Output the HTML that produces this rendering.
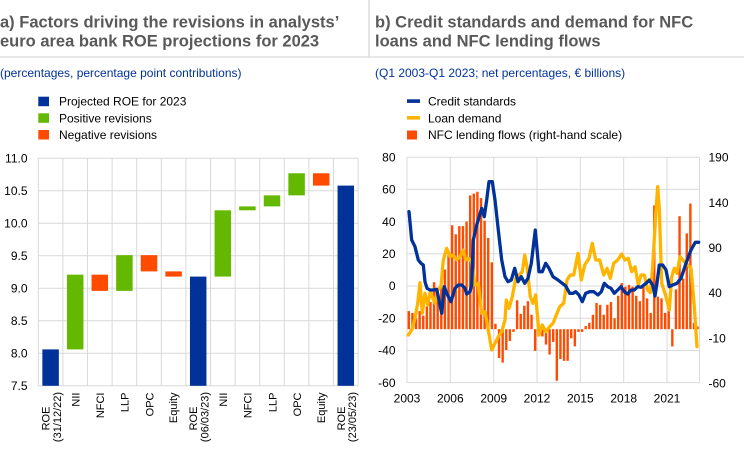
<!DOCTYPE html>
<html>
<head>
<meta charset="utf-8">
<style>
html,body{margin:0;padding:0;background:#fff;}
svg{display:block;}
text{font-family:"Liberation Sans",Arial,sans-serif;}
.t{font-size:16.5px;font-weight:bold;fill:#595959;}
.s{font-size:12px;fill:#003299;}
.l{font-size:12px;fill:#000;}
.k{font-size:12px;fill:#000;}
.r{font-size:11px;fill:#000;}
</style>
</head>
<body>
<svg width="744" height="464" viewBox="0 0 744 464" xmlns="http://www.w3.org/2000/svg">
<rect width="744" height="464" fill="#fff"/>
<line x1="0" y1="57" x2="744" y2="57" stroke="#d9d9d9" stroke-width="1.3"/>
<line x1="369" y1="0" x2="369" y2="57" stroke="#d9d9d9" stroke-width="1.3"/>

<text class="t" x="0" y="27.5">a) Factors driving the revisions in analysts’</text>
<text class="t" x="0" y="46.5">euro area bank ROE projections for 2023</text>
<text class="s" x="0" y="77">(percentages, percentage point contributions)</text>

<text class="t" x="375" y="27.5">b) Credit standards and demand for NFC</text>
<text class="t" x="375" y="46.5">loans and NFC lending flows</text>
<text class="s" x="375" y="77">(Q1 2003-Q1 2023; net percentages, € billions)</text>

<rect x="38.3" y="96.7" width="10.7" height="9.5" fill="#003299"/>
<text class="l" x="59" y="105.5">Projected ROE for 2023</text>
<rect x="38.3" y="113.3" width="10.7" height="9.5" fill="#65b800"/>
<text class="l" x="59" y="122.3">Positive revisions</text>
<rect x="38.3" y="130" width="10.7" height="9.5" fill="#ff4b00"/>
<text class="l" x="59" y="139">Negative revisions</text>

<rect x="407" y="99.3" width="13" height="3.6" fill="#003299"/>
<text class="l" x="428" y="105.5">Credit standards</text>
<rect x="407" y="116" width="13" height="3.6" fill="#ffb400"/>
<text class="l" x="428" y="122.3">Loan demand</text>
<rect x="407" y="130.5" width="10" height="9" fill="#ff4b00"/>
<text class="l" x="428" y="139">NFC lending flows (right-hand scale)</text>

<g stroke="#d9d9d9" stroke-width="1">
<line x1="38.3" y1="158.3" x2="358.1" y2="158.3"/>
<line x1="38.3" y1="190.8" x2="358.1" y2="190.8"/>
<line x1="38.3" y1="223.3" x2="358.1" y2="223.3"/>
<line x1="38.3" y1="255.8" x2="358.1" y2="255.8"/>
<line x1="38.3" y1="288.3" x2="358.1" y2="288.3"/>
<line x1="38.3" y1="320.8" x2="358.1" y2="320.8"/>
<line x1="38.3" y1="353.3" x2="358.1" y2="353.3"/>
<line x1="38.3" y1="385.8" x2="358.1" y2="385.8"/>
<line x1="38.3" y1="158.3" x2="38.3" y2="385.8"/>
<line x1="62.9" y1="158.3" x2="62.9" y2="385.8"/>
<line x1="87.5" y1="158.3" x2="87.5" y2="385.8"/>
<line x1="112.1" y1="158.3" x2="112.1" y2="385.8"/>
<line x1="136.7" y1="158.3" x2="136.7" y2="385.8"/>
<line x1="161.3" y1="158.3" x2="161.3" y2="385.8"/>
<line x1="185.9" y1="158.3" x2="185.9" y2="385.8"/>
<line x1="210.5" y1="158.3" x2="210.5" y2="385.8"/>
<line x1="235.1" y1="158.3" x2="235.1" y2="385.8"/>
<line x1="259.7" y1="158.3" x2="259.7" y2="385.8"/>
<line x1="284.3" y1="158.3" x2="284.3" y2="385.8"/>
<line x1="308.9" y1="158.3" x2="308.9" y2="385.8"/>
<line x1="333.5" y1="158.3" x2="333.5" y2="385.8"/>
<line x1="358.1" y1="158.3" x2="358.1" y2="385.8"/>
</g>
<g text-anchor="end">
<text class="k" x="27.5" y="162.5">11.0</text>
<text class="k" x="27.5" y="195">10.5</text>
<text class="k" x="27.5" y="227.5">10.0</text>
<text class="k" x="27.5" y="260">9.5</text>
<text class="k" x="27.5" y="292.5">9.0</text>
<text class="k" x="27.5" y="325">8.5</text>
<text class="k" x="27.5" y="357.5">8.0</text>
<text class="k" x="27.5" y="390">7.5</text>
</g>
<rect x="42.35" y="349.4" width="16.5" height="36.4" fill="#003299"/>
<rect x="66.95" y="274.65" width="16.5" height="74.75" fill="#65b800"/>
<rect x="91.55" y="274.65" width="16.5" height="16.25" fill="#ff4b00"/>
<rect x="116.15" y="255.15" width="16.5" height="35.75" fill="#65b800"/>
<rect x="140.75" y="255.15" width="16.5" height="16.25" fill="#ff4b00"/>
<rect x="165.35" y="271.4" width="16.5" height="5.2" fill="#ff4b00"/>
<rect x="189.95" y="276.6" width="16.5" height="109.2" fill="#003299"/>
<rect x="214.55" y="210.3" width="16.5" height="66.3" fill="#65b800"/>
<rect x="239.15" y="206.4" width="16.5" height="3.9" fill="#65b800"/>
<rect x="263.75" y="195.35" width="16.5" height="11.05" fill="#65b800"/>
<rect x="288.35" y="173.25" width="16.5" height="22.1" fill="#65b800"/>
<rect x="312.95" y="173.25" width="16.5" height="12.35" fill="#ff4b00"/>
<rect x="337.55" y="185.6" width="16.5" height="200.2" fill="#003299"/>

<g>
<text class="r" transform="translate(49.6,418.5) rotate(-90)" text-anchor="middle">ROE</text>
<text class="r" transform="translate(60.8,417) rotate(-90)" text-anchor="middle">(31/12/22)</text>
<text class="r" transform="translate(79.5,392.5) rotate(-90)" text-anchor="end">NII</text>
<text class="r" transform="translate(104.1,392.5) rotate(-90)" text-anchor="end">NFCI</text>
<text class="r" transform="translate(128.7,392.5) rotate(-90)" text-anchor="end">LLP</text>
<text class="r" transform="translate(153.3,392.5) rotate(-90)" text-anchor="end">OPC</text>
<text class="r" transform="translate(177.2,392.5) rotate(-90)" text-anchor="end">Equity</text>
<text class="r" transform="translate(197.2,418.5) rotate(-90)" text-anchor="middle">ROE</text>
<text class="r" transform="translate(208.4,417) rotate(-90)" text-anchor="middle">(06/03/23)</text>
<text class="r" transform="translate(227.1,392.5) rotate(-90)" text-anchor="end">NII</text>
<text class="r" transform="translate(251.7,392.5) rotate(-90)" text-anchor="end">NFCI</text>
<text class="r" transform="translate(276.3,392.5) rotate(-90)" text-anchor="end">LLP</text>
<text class="r" transform="translate(300.9,392.5) rotate(-90)" text-anchor="end">OPC</text>
<text class="r" transform="translate(324.8,392.5) rotate(-90)" text-anchor="end">Equity</text>
<text class="r" transform="translate(344.8,418.5) rotate(-90)" text-anchor="middle">ROE</text>
<text class="r" transform="translate(356,417) rotate(-90)" text-anchor="middle">(23/05/23)</text>
</g>

<g stroke="#d9d9d9" stroke-width="1">
<line x1="407" y1="157.2" x2="699.5" y2="157.2"/>
<line x1="407" y1="189.4" x2="699.5" y2="189.4"/>
<line x1="407" y1="221.6" x2="699.5" y2="221.6"/>
<line x1="407" y1="253.8" x2="699.5" y2="253.8"/>
<line x1="407" y1="286" x2="699.5" y2="286"/>
<line x1="407" y1="318.2" x2="699.5" y2="318.2"/>
<line x1="407" y1="350.4" x2="699.5" y2="350.4"/>
<line x1="407" y1="382.6" x2="699.5" y2="382.6"/>
<line x1="407" y1="157.2" x2="407" y2="382.6"/>
<line x1="450.3" y1="157.2" x2="450.3" y2="382.6"/>
<line x1="493.7" y1="157.2" x2="493.7" y2="382.6"/>
<line x1="537" y1="157.2" x2="537" y2="382.6"/>
<line x1="580.3" y1="157.2" x2="580.3" y2="382.6"/>
<line x1="623.7" y1="157.2" x2="623.7" y2="382.6"/>
<line x1="667" y1="157.2" x2="667" y2="382.6"/>
<line x1="699.5" y1="157.2" x2="699.5" y2="382.6"/>
</g>
<g text-anchor="end">
<text class="k" x="395.5" y="161.4">80</text>
<text class="k" x="395.5" y="193.6">60</text>
<text class="k" x="395.5" y="225.8">40</text>
<text class="k" x="395.5" y="258">20</text>
<text class="k" x="395.5" y="290.2">0</text>
<text class="k" x="395.5" y="322.4">-20</text>
<text class="k" x="395.5" y="354.6">-40</text>
<text class="k" x="395.5" y="386.8">-60</text>
</g>
<g>
<text class="k" x="708.5" y="161.6">190</text>
<text class="k" x="708.5" y="206.8">140</text>
<text class="k" x="708.5" y="252">90</text>
<text class="k" x="708.5" y="297.2">40</text>
<text class="k" x="708.5" y="342.4">-10</text>
<text class="k" x="708.5" y="387.6">-60</text>
</g>
<g text-anchor="middle">
<text class="k" x="407" y="402.5">2003</text>
<text class="k" x="450.3" y="402.5">2006</text>
<text class="k" x="493.7" y="402.5">2009</text>
<text class="k" x="537" y="402.5">2012</text>
<text class="k" x="580.3" y="402.5">2015</text>
<text class="k" x="623.7" y="402.5">2018</text>
<text class="k" x="667" y="402.5">2021</text>
</g>

<g fill="#ff4b00">
<rect x="407.6" y="311.12" width="2.4" height="18.08"/>
<rect x="411.21" y="312.93" width="2.4" height="16.27"/>
<rect x="414.82" y="318.35" width="2.4" height="10.85"/>
<rect x="418.43" y="311.12" width="2.4" height="18.08"/>
<rect x="422.04" y="315.64" width="2.4" height="13.56"/>
<rect x="425.65" y="306.6" width="2.4" height="22.6"/>
<rect x="429.26" y="302.08" width="2.4" height="27.12"/>
<rect x="432.87" y="282.19" width="2.4" height="47.01"/>
<rect x="436.48" y="296.66" width="2.4" height="32.54"/>
<rect x="440.09" y="279.48" width="2.4" height="49.72"/>
<rect x="443.7" y="269.54" width="2.4" height="59.66"/>
<rect x="447.31" y="255.07" width="2.4" height="74.13"/>
<rect x="450.92" y="225.24" width="2.4" height="103.96"/>
<rect x="454.53" y="234.28" width="2.4" height="94.92"/>
<rect x="458.14" y="226.14" width="2.4" height="103.06"/>
<rect x="461.75" y="226.14" width="2.4" height="103.06"/>
<rect x="465.36" y="221.62" width="2.4" height="107.58"/>
<rect x="468.97" y="195.41" width="2.4" height="133.79"/>
<rect x="472.58" y="193.6" width="2.4" height="135.6"/>
<rect x="476.19" y="191.79" width="2.4" height="137.41"/>
<rect x="479.8" y="198.12" width="2.4" height="131.08"/>
<rect x="483.41" y="220.72" width="2.4" height="108.48"/>
<rect x="487.02" y="237.9" width="2.4" height="91.3"/>
<rect x="490.63" y="262.3" width="2.4" height="66.9"/>
<rect x="494.24" y="323.78" width="2.4" height="5.42"/>
<rect x="497.85" y="329.2" width="2.4" height="28.93"/>
<rect x="501.46" y="329.2" width="2.4" height="33.45"/>
<rect x="505.07" y="329.2" width="2.4" height="20.79"/>
<rect x="508.68" y="329.2" width="2.4" height="11.75"/>
<rect x="512.29" y="329.2" width="2.4" height="2.71"/>
<rect x="515.9" y="300.27" width="2.4" height="28.93"/>
<rect x="519.51" y="313.83" width="2.4" height="15.37"/>
<rect x="523.12" y="305.7" width="2.4" height="23.5"/>
<rect x="526.73" y="301.18" width="2.4" height="28.02"/>
<rect x="530.34" y="314.74" width="2.4" height="14.46"/>
<rect x="533.95" y="329.2" width="2.4" height="21.7"/>
<rect x="537.56" y="329.2" width="2.4" height="7.23"/>
<rect x="541.17" y="329.2" width="2.4" height="7.23"/>
<rect x="544.78" y="329.2" width="2.4" height="15.37"/>
<rect x="548.39" y="329.2" width="2.4" height="25.31"/>
<rect x="552.0" y="329.2" width="2.4" height="12.66"/>
<rect x="555.61" y="329.2" width="2.4" height="51.53"/>
<rect x="559.22" y="329.2" width="2.4" height="29.83"/>
<rect x="562.83" y="329.2" width="2.4" height="31.64"/>
<rect x="566.44" y="329.2" width="2.4" height="31.64"/>
<rect x="570.05" y="329.2" width="2.4" height="9.04"/>
<rect x="573.66" y="329.2" width="2.4" height="17.18"/>
<rect x="577.27" y="329.2" width="2.4" height="2.71"/>
<rect x="580.88" y="329.2" width="2.4" height="2.71"/>
<rect x="584.49" y="326.04" width="2.4" height="3.16"/>
<rect x="588.1" y="322.87" width="2.4" height="6.33"/>
<rect x="591.71" y="314.74" width="2.4" height="14.46"/>
<rect x="595.32" y="302.98" width="2.4" height="26.22"/>
<rect x="598.93" y="304.79" width="2.4" height="24.41"/>
<rect x="602.54" y="314.74" width="2.4" height="14.46"/>
<rect x="606.15" y="304.79" width="2.4" height="24.41"/>
<rect x="609.76" y="302.08" width="2.4" height="27.12"/>
<rect x="613.37" y="318.35" width="2.4" height="10.85"/>
<rect x="616.98" y="295.75" width="2.4" height="33.45"/>
<rect x="620.59" y="283.1" width="2.4" height="46.1"/>
<rect x="624.2" y="286.71" width="2.4" height="42.49"/>
<rect x="627.81" y="284.9" width="2.4" height="44.3"/>
<rect x="631.42" y="286.71" width="2.4" height="42.49"/>
<rect x="635.03" y="295.75" width="2.4" height="33.45"/>
<rect x="638.64" y="301.18" width="2.4" height="28.02"/>
<rect x="642.25" y="286.71" width="2.4" height="42.49"/>
<rect x="645.86" y="298.46" width="2.4" height="30.74"/>
<rect x="649.47" y="312.93" width="2.4" height="16.27"/>
<rect x="653.08" y="205.35" width="2.4" height="123.85"/>
<rect x="656.69" y="296.66" width="2.4" height="32.54"/>
<rect x="660.3" y="298.46" width="2.4" height="30.74"/>
<rect x="663.91" y="312.93" width="2.4" height="16.27"/>
<rect x="667.52" y="311.12" width="2.4" height="18.08"/>
<rect x="671.13" y="329.2" width="2.4" height="17.18"/>
<rect x="674.74" y="289.42" width="2.4" height="39.78"/>
<rect x="678.35" y="216.2" width="2.4" height="113"/>
<rect x="681.96" y="278.58" width="2.4" height="50.62"/>
<rect x="685.57" y="233.38" width="2.4" height="95.82"/>
<rect x="689.18" y="203.54" width="2.4" height="125.66"/>
<rect x="692.79" y="322.87" width="2.4" height="6.33"/>
<rect x="696.4" y="326.49" width="2.4" height="2.71"/>
</g>

<polyline fill="none" stroke="#ffb400" stroke-width="3.3" stroke-linejoin="round" stroke-linecap="round" points="408.3,335 411.7,330 415,318.3 417.7,303.3 420,282.7 422.3,313.3 425,293.3 427.7,305 430.3,291.7 432.3,296.7 435,303.3 437.7,290 441,286.7 443.3,260 446.7,248.3 450,256.7 453.3,255 456.7,260 460,256.7 463.3,250 465.7,260 468.3,258.3 471.7,261.7 475,285 478.3,283.3 481.7,313.3 485,311.7 488.3,330 491.7,350 495,343.3 498.3,336.7 501.7,331.7 505,320 506.3,300 509,308.3 512.3,296.7 515.7,278.3 519,275 522.3,271.7 524.7,255 527,266.7 530.3,296.7 533,303.3 535.7,295 539,335 542.3,325 545.7,331.7 549.7,326.7 553,323.3 556.3,315 559.7,306.7 563.7,303.3 567,280 570.3,275 573.7,275 578,253.3 581.3,280 584.7,265 589,258.3 592.3,243.3 595.7,260 599.7,260 603.7,275 607,268.3 610.3,278.3 613.7,263.3 617.7,260 621.7,254 625,260 628.3,258.3 631.7,271.7 635,266.7 638.3,285 641,275 644.3,275 647.7,290 650.3,292.7 652.7,266.7 656,210 657.7,186.7 659.3,208.3 661.7,283.3 666,296.7 669.3,310 671.7,276.7 674.3,268.3 677,273.3 680,256.7 684.3,261.7 687.7,265 691,268.3 694.3,306.7 697,346.7"/>

<polyline fill="none" stroke="#003299" stroke-width="3.3" stroke-linejoin="round" stroke-linecap="round" points="409,211.7 411.7,240 415,246.7 418.3,260 421,263.3 423.3,265 425,281.7 427,288.3 430,290 433.3,290 436.7,289.3 438.3,296.7 441.7,313.3 444.3,286.7 446.7,293.3 451,301.7 455,288.3 458.3,285 461.7,285 465,288.3 466.7,294 470,291.7 471.7,285 473.3,240 476.7,225 481.7,208.3 484.3,216.7 486.7,200 489,181.7 492.3,181.7 495,200 498.3,230 501.7,260 505,276.7 508,281.7 511.3,280 514.7,268.3 518,281.7 521.3,276.7 524.7,283.3 528,278.3 531.3,263.3 535.3,230 539,271.7 542.3,271.7 545.7,263.3 549,268.3 553,276.7 558,280 562.3,283.3 565.7,286 569.7,293.3 573,293.3 575.7,291.7 579,295 582.3,301.7 585.7,293.3 589.7,291.7 593.7,291.7 598,295 601.3,291.7 604.3,283.3 607.7,286.7 611,288.3 614.3,293.3 617.7,290 621,286.7 624.3,291.7 627.7,294 631,290 634.3,290 637.7,286.7 641,287.3 646,283.3 649.3,280 652.7,285 655,296 657,283.3 659.3,265 662.7,265 666,270 669.3,286.7 672.7,285 677,283.3 681,278.3 686,263.3 691,250 695.3,242.3 698.7,242.3"/>
</svg>
</body>
</html>
